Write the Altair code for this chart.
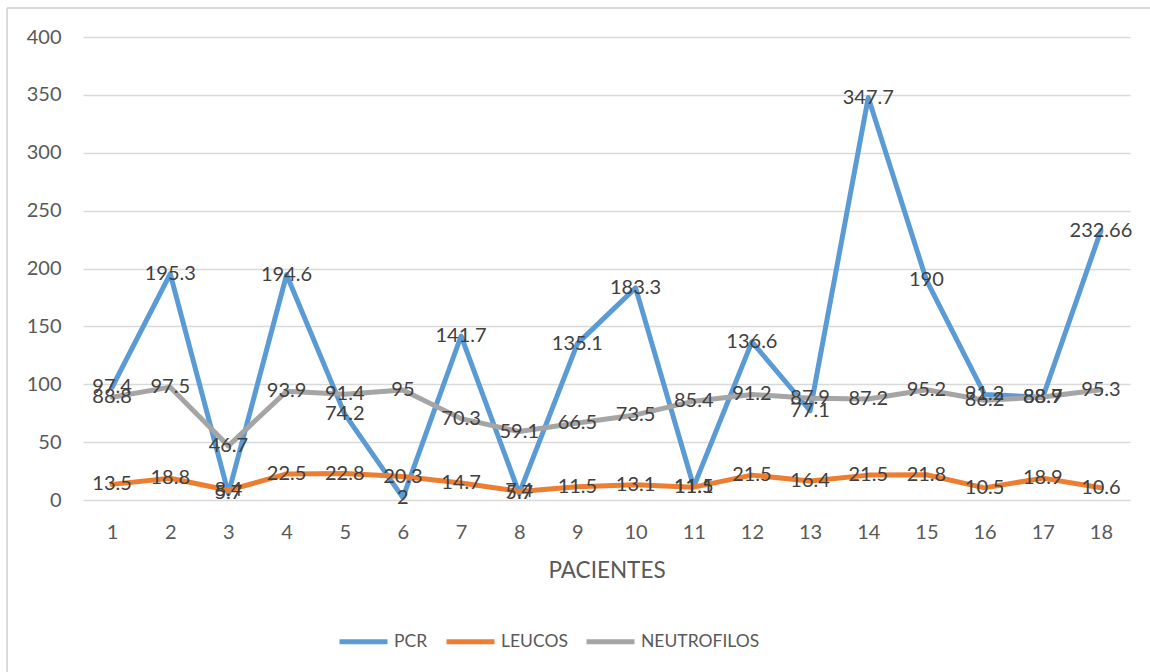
import altair as alt
import pandas as pd

pacientes = list(range(1, 19))
pcr = [97.4, 195.3, 5.7, 194.6, 74.2, 2, 141.7, 5.7, 135.1, 183.3, 11.5, 136.6, 77.1, 347.7, 190, 91.2, 88.7, 232.66]
leucos = [13.5, 18.8, 8.4, 22.5, 22.8, 20.3, 14.7, 7.4, 11.5, 13.1, 11.1, 21.5, 16.4, 21.5, 21.8, 10.5, 18.9, 10.6]
neutrofilos = [88.8, 97.5, 46.7, 93.9, 91.4, 95, 70.3, 59.1, 66.5, 73.5, 85.4, 91.2, 87.9, 87.2, 95.2, 86.2, 88.9, 95.3]

series_names = ["PCR", "LEUCOS", "NEUTROFILOS"]
series_colors = ["#5B9BD5", "#ED7D31", "#A5A5A5"]

rows = []
for name, values in zip(series_names, [pcr, leucos, neutrofilos]):
    for p, v in zip(pacientes, values):
        rows.append({"paciente": p, "serie": name, "valor": v, "orden": series_names.index(name)})
df = pd.DataFrame(rows)

FONT = "Lato"
W, H = 1047, 463

x_enc = alt.X(
    "paciente:O",
    sort=pacientes,
    title="PACIENTES",
    axis=alt.Axis(
        labelAngle=0, labelFontSize=20, labelColor="#595959", labelFont=FONT,
        labelPadding=22, domain=False, ticks=False, grid=False,
        titleFontSize=22.5, titleColor="#595959", titleFont=FONT, titleFontWeight="normal",
        titlePadding=17,
    ),
    scale=alt.Scale(type="point", padding=0.5),
)
y_enc = alt.Y(
    "valor:Q",
    title=None,
    scale=alt.Scale(domain=[0, 400], nice=False),
    axis=alt.Axis(
        values=[0, 50, 100, 150, 200, 250, 300, 350, 400],
        labelFontSize=20, labelColor="#595959", labelFont=FONT, labelPadding=22,
        domain=False, ticks=False, grid=True, gridColor="#d9d9d9", gridWidth=1.5,
    ),
)

base = alt.Chart(df)

lines = base.mark_line(strokeWidth=5, strokeCap="round", strokeJoin="round").encode(
    x=x_enc,
    y=y_enc,
    color=alt.Color(
        "serie:N",
        sort=series_names,
        scale=alt.Scale(domain=series_names, range=series_colors),
        legend=alt.Legend(
            title=None, orient="none", direction="horizontal",
            legendX=254, legendY=578,
            symbolType="stroke", symbolSize=2300, symbolStrokeWidth=5,
            labelFontSize=17.5, labelColor="#595959", labelFont=FONT,
            labelOffset=4, columnPadding=8,
        ),
    ),
    order="orden:Q",
)

labels = base.mark_text(fontSize=20, font=FONT, color="#404040").encode(
    x=alt.X("paciente:O", sort=pacientes),
    y=alt.Y("valor:Q"),
    text=alt.Text("valor:Q"),
)

# chart frame: left and top edges
frame_left = alt.Chart(df).mark_rule(color="#d9d9d9", strokeWidth=2).encode(
    x=alt.value(-76), y=alt.value(-29), y2=alt.value(H + 172)
)
frame_top = alt.Chart(df).mark_rule(color="#d9d9d9", strokeWidth=2).encode(
    x=alt.value(-76), x2=alt.value(W + 20), y=alt.value(-29)
)

chart = alt.layer(frame_left, frame_top, lines, labels).properties(
    width=W,
    height=H,
    autosize=alt.AutoSizeParams(type="none"),
    padding={"left": 83, "top": 37, "right": 20, "bottom": 172},
    background="white",
).configure_view(stroke=None)

chart.save("out.html", embed_options={"renderer": "svg", "actions": False})
